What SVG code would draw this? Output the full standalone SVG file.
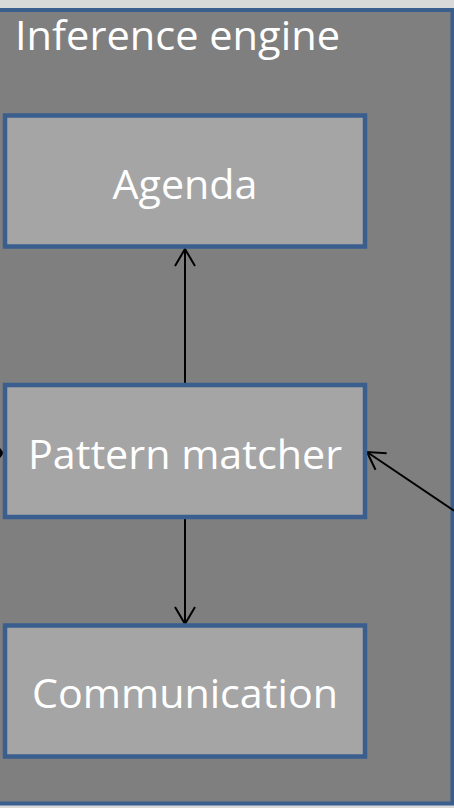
<svg xmlns="http://www.w3.org/2000/svg" width="454" height="808" viewBox="0 0 454 808">
  <style>
    .box { fill: #a5a5a5; stroke: #3a5f8f; stroke-width: 4.5; }
    .lbl { font-family: "Open Sans", "Liberation Sans", sans-serif; font-size: 41px; fill: #ffffff; }
    .conn { stroke: #000000; stroke-width: 2; fill: none; }
  </style>
  <defs>
    <marker id="open" markerUnits="userSpaceOnUse" markerWidth="24" markerHeight="24" viewBox="0 0 24 24" refX="20" refY="12" orient="auto">
      <path d="M3,2 L20,12 L3,22" fill="none" stroke="#000" stroke-width="2"/>
    </marker>
  </defs>
  <rect x="0" y="0" width="454" height="808" fill="#d9d9d9"/>
  <g id="container">
    <rect x="-10" y="10" width="462.5" height="793.5" fill="#7f7f7f" stroke="#3a5f8f" stroke-width="4"/>
    <text class="lbl" x="15" y="50" textLength="325" lengthAdjust="spacingAndGlyphs">Inference engine</text>
  </g>
  <g id="connectors">
    <path class="conn" d="M185,385 L185,249" marker-end="url(#open)"/>
    <path class="conn" d="M185,517 L185,624" marker-end="url(#open)"/>
    <path class="conn" d="M456,512 L367,452" marker-end="url(#open)"/>
    <polygon points="0,448 4,453 0,458" fill="#000"/>
  </g>
  <g id="agenda">
    <rect class="box" x="5" y="115.5" width="360" height="131"/>
    <text class="lbl" x="185" y="199" text-anchor="middle" textLength="145" lengthAdjust="spacingAndGlyphs">Agenda</text>
  </g>
  <g id="pattern-matcher">
    <rect class="box" x="5" y="385" width="360" height="132"/>
    <text class="lbl" x="185" y="469" text-anchor="middle" textLength="314" lengthAdjust="spacingAndGlyphs">Pattern matcher</text>
  </g>
  <g id="communication">
    <rect class="box" x="5" y="625.5" width="360" height="131"/>
    <text class="lbl" x="185" y="708" text-anchor="middle" textLength="306" lengthAdjust="spacingAndGlyphs">Communication</text>
  </g>
</svg>
